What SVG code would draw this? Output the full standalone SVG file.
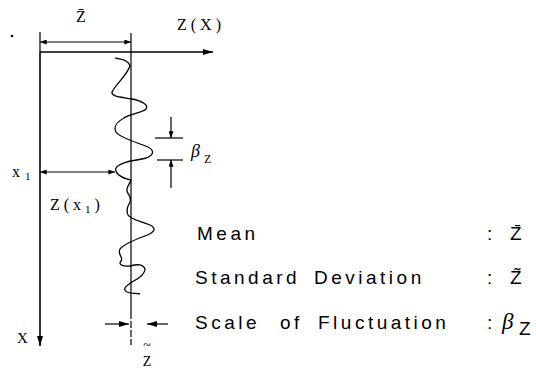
<svg xmlns="http://www.w3.org/2000/svg" width="536" height="370" viewBox="0 0 536 370">
<style>
.ln{stroke:#000;stroke-width:1.6;fill:none}
.thin{stroke:#000;stroke-width:1.2;fill:none}
.wave{stroke:#000;stroke-width:1.3;fill:none;stroke-linejoin:round}
.serif{font-family:"Liberation Serif","Times New Roman",serif;fill:#000}
.sans{font-family:"Liberation Sans",Arial,sans-serif;fill:#000;font-size:19px;letter-spacing:3.5px}
</style>
<defs>
<marker id="ah" viewBox="0 0 10 6" refX="10" refY="3" markerWidth="11" markerHeight="6" markerUnits="userSpaceOnUse" orient="auto-start-reverse">
<path d="M0,0 L10,3 L0,6 Z" fill="#000"/>
</marker>
<marker id="ahs" viewBox="0 0 8 6" refX="8" refY="3" markerWidth="8" markerHeight="5" markerUnits="userSpaceOnUse" orient="auto-start-reverse">
<path d="M0,0 L8,3 L0,6 Z" fill="#000"/>
</marker>
</defs>
<rect width="536" height="370" fill="#fff"/>
<circle cx="12" cy="36" r="1.3" fill="#000"/>

<g id="axes">
<line class="ln" x1="40" y1="52" x2="213" y2="52" marker-end="url(#ah)"/>
<line class="ln" x1="40" y1="52" x2="40" y2="346" marker-end="url(#ah)"/>
<text class="serif" x="177" y="30" font-size="16" letter-spacing="4">Z(X)</text>
<text class="serif" x="17" y="343" font-size="15">X</text>
</g>

<g id="mean-dimension">
<line class="thin" x1="40" y1="32" x2="40" y2="52"/>
<line class="thin" x1="131" y1="33" x2="131" y2="52"/>
<line class="thin" x1="40" y1="42" x2="131" y2="42" marker-start="url(#ahs)" marker-end="url(#ahs)"/>
<text class="serif" x="81" y="22" font-size="16" text-anchor="middle">Z̄</text>
</g>

<g id="mean-line">
<line class="thin" x1="131" y1="52" x2="131" y2="312"/>
<line class="thin" x1="131" y1="312" x2="131" y2="345" stroke-dasharray="7 2"/>
</g>

<g id="wave">
<path class="wave" d="M115,58 C121,59 128,60 130,66 C127,75 116,84 112,92 C111,97 122,97 132,99 C142,101 149,105 146,109 C142,113 130,114 124,118 C117,122 113,126 116,132 C120,138 136,142 148,147 C156,151 153,157 142,159 C130,161 119,163 116,168 C114,173 121,178 131,180 C130,184 126,187 127,191 C128,195 132,197 130,202 C127,207 126,211 128,215 C130,219 140,221 150,225 C158,229 153,233 145,236 C134,240 124,244 120,249 C117,254 124,258 121,261 C118,264 122,267 130,266 C138,264 143,264 145,269 C145,274 138,279 132,282 C126,286 122,289 127,292 C131,294 136,293 140,294"/>
</g>

<g id="x1-dimension">
<line class="thin" x1="40" y1="172" x2="115" y2="172" marker-start="url(#ahs)" marker-end="url(#ahs)"/>
<text class="serif" x="12" y="177" font-size="16">x<tspan font-size="11" dx="5" dy="3">1</tspan></text>
<text class="serif" x="50" y="210" font-size="16" letter-spacing="4">Z(x<tspan font-size="11" dy="3">1</tspan><tspan dy="-3">)</tspan></text>
</g>

<g id="beta-marker">
<line class="thin" x1="155" y1="138" x2="183" y2="138"/>
<line class="thin" x1="157" y1="160" x2="183" y2="160"/>
<line class="thin" x1="171" y1="117" x2="171" y2="138" marker-end="url(#ahs)"/>
<line class="thin" x1="171" y1="188" x2="171" y2="160" marker-end="url(#ahs)"/>
<text class="serif" x="191" y="157" font-size="18" font-style="italic">β<tspan font-size="12" font-style="normal" dx="4" dy="6">Z</tspan></text>
</g>

<g id="sd-marker">
<line class="thin" x1="105" y1="324" x2="129" y2="324" marker-end="url(#ah)"/>
<line class="thin" x1="168" y1="324" x2="147" y2="324" marker-end="url(#ah)"/>
<text class="serif" x="147" y="350" font-size="14" text-anchor="middle">~</text>
<text class="serif" x="147" y="366" font-size="14" text-anchor="middle">Z</text>
</g>

<g id="legend">
<text class="sans" x="197" y="240">Mean</text>
<text class="sans" x="195" y="284">Standard</text>
<text class="sans" x="314" y="284">Deviation</text>
<text class="sans" x="195" y="329">Scale</text>
<text class="sans" x="280" y="329">of</text>
<text class="sans" x="318" y="329">Fluctuation</text>
<text class="sans" x="487" y="240">:</text>
<text class="sans" x="487" y="284">:</text>
<text class="sans" x="487" y="329">:</text>
<text class="sans" x="510" y="240" letter-spacing="0">Z̄</text>
<text class="sans" x="510" y="284" letter-spacing="0">Z̃</text>
<text class="serif" x="502" y="329" font-size="23" font-style="italic">β</text>
<text class="sans" x="519" y="335" font-size="13" letter-spacing="0">Z</text>
</g>
</svg>
